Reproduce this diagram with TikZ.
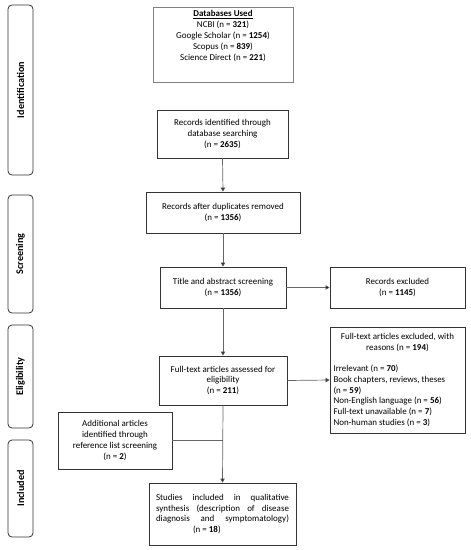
\documentclass[tikz,border=0pt]{standalone}
\usepackage{fontspec}
\setmainfont{Carlito}
\usetikzlibrary{arrows.meta}
\begin{document}
\begin{tikzpicture}[x=1bp,y=-1bp,
  box/.style={draw=black!80,line width=0.8bp,inner sep=0pt,align=center,
    font=\fontsize{9}{11}\selectfont},
  side/.style={draw=black!80,line width=0.8bp,rounded corners=4bp,inner sep=0pt,
    minimum width=25bp},
  sidetext/.style={rotate=90,font=\fontsize{10.2}{12}\selectfont\bfseries},
  conn/.style={draw=black!60,line width=0.7bp},
  arr/.style={conn,-{Triangle[length=4bp,width=4.5bp,fill=black]}}
]
\useasboundingbox (0,0) rectangle (471,550);
% side bars
\node[side,minimum height=170bp] (sid) at (20.5,90) {};
\node[sidetext] (sidt) at (sid.center) {Identification};
\node[side,minimum height=118bp] (sscr) at (20.5,254) {};
\node[sidetext] (sscrt) at (sscr.center) {Screening};
\node[side,minimum height=103bp] (sel) at (20.5,376.5) {};
\node[sidetext] (selt) at (sel.center) {Eligibility};
\node[side,minimum height=97bp] (sinc) at (20.5,488.5) {};
\node[sidetext] (sinct) at (sinc.center) {Included};
% boxes
\node[box,draw=black!50,minimum width=140bp,minimum height=75bp] (db) at (223,44.5) {};
\node[box,draw=none,anchor=north] (dbt) at ([yshift=-3bp]db.north) {\underline{\textbf{Databases Used}}\\
  NCBI (n = \textbf{321})\\ Google Scholar (n = \textbf{1254})\\ Scopus (n = \textbf{839})\\
  Science Direct (n = \textbf{221})};
\node[box,minimum width=131bp,minimum height=48bp] (rid) at (222.5,134) {Records identified through\\ database searching\\ (n = \textbf{2635})};
\node[box,minimum width=154bp,minimum height=41bp] (dup) at (223,212.5) {Records after duplicates removed\\ (n = \textbf{1356})};
\node[box,minimum width=126bp,minimum height=41bp] (tit) at (223,287.5) {Title and abstract screening\\ (n = \textbf{1356})};
\node[box,minimum width=135bp,minimum height=41bp] (exc) at (397.5,287.5) {Records excluded\\ (n = \textbf{1145})};
\node[box,minimum width=128bp,minimum height=49bp] (ful) at (223,380.5) {Full-text articles assessed for\\ eligibility\\ (n = \textbf{211})};
\node[box,minimum width=135bp,minimum height=106bp] (rea) at (397.5,380) {%
  \begin{minipage}{128bp}\fontsize{9}{10.8}\selectfont
  \centering Full-text articles excluded, with\\ reasons (n = \textbf{194})\par
  \vspace{10.4pt}\raggedright
  Irrelevant (n = \textbf{70})\\
  Book chapters, reviews, theses\\ (n = \textbf{59})\\
  Non-English language (n = \textbf{56})\\
  Full-text unavailable (n = \textbf{7})\\
  Non-human studies (n = \textbf{3})
  \end{minipage}};
\node[box,minimum width=114bp,minimum height=57bp] (add) at (115,440.5) {Additional articles\\ identified through\\ reference list screening\\ (n = \textbf{2})};
\node[box,minimum width=147bp,minimum height=62bp] (stu) at (222.5,514) {%
  \begin{minipage}{133bp}\fontsize{9}{10.8}\selectfont\hyphenpenalty=10000
  Studies included in qualitative\linebreak synthesis (description of disease\linebreak diagnosis and symptomatology)\linebreak
  \hspace*{37bp}(n = \textbf{18})
  \end{minipage}};
\coordinate (join) at (ful.south |- add.east);
% connectors
\draw[arr] (rid.south) -- (dup.north);
\draw[arr] (dup.south) -- (tit.north);
\draw[arr] (tit.south) -- (ful.north);
\draw[arr] (ful.south) -- (stu.north);
\draw[arr] (tit.east) -- (exc.west);
\draw[arr] (ful.east) -- (rea.west);
\draw[conn] (add.east) -- (join);
\end{tikzpicture}
\end{document}
